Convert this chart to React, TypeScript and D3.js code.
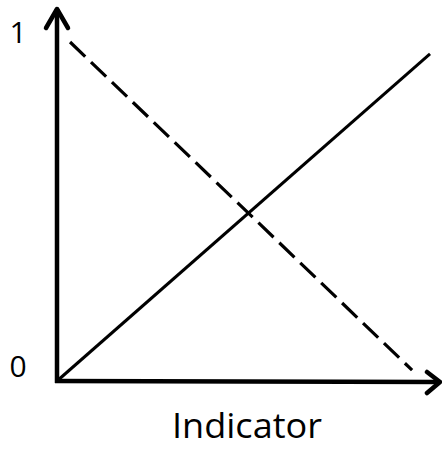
import React, { useEffect, useRef } from 'react'
import * as d3 from 'd3';

// values (0..1 on both axes)
const risingX = [0, 1];
const risingY = [0, 0.965];
const fallingX = [0.035, 0.952];
const fallingY = [1, 0.032];
const yTicks = [0, 1];
const yTickLabels = ['0', '1'];
const xTitle = 'Indicator';

export default function App() {
    const ref = useRef<SVGSVGElement | null>(null);

    useEffect(() => {
        const svg = d3.select(ref.current);
        svg.selectAll('*').remove();

        const width = 442;
        const height = 449;

        const x = d3.scaleLinear().domain([0, 1]).range([57, 430]);
        const y = d3.scaleLinear().domain([0, 1]).range([381, 42]);

        svg.append('rect')
            .attr('width', width)
            .attr('height', height)
            .attr('fill', '#ffffff');

        const line = d3.line<[number, number]>()
            .x(d => x(d[0]))
            .y(d => y(d[1]));

        // solid rising line
        svg.append('path')
            .datum(risingX.map((v, i) => [v, risingY[i]] as [number, number]))
            .attr('d', line)
            .attr('fill', 'none')
            .attr('stroke', '#000')
            .attr('stroke-width', 3);

        // dashed falling line
        svg.append('path')
            .datum(fallingX.map((v, i) => [v, fallingY[i]] as [number, number]))
            .attr('d', line)
            .attr('fill', 'none')
            .attr('stroke', '#000')
            .attr('stroke-width', 3.2)
            .attr('stroke-dasharray', '21 8');

        const axisColor = '#000';
        const axisWidth = 4.5;
        const x0 = x(0);
        const y0 = y(0);

        // y axis with arrow
        svg.append('line')
            .attr('x1', x0).attr('y1', y0 + 2)
            .attr('x2', x0).attr('y2', 9)
            .attr('stroke', axisColor).attr('stroke-width', axisWidth);
        svg.append('polyline')
            .attr('points', `${x0 - 11},${28} ${x0},${9} ${x0 + 11},${28}`)
            .attr('fill', 'none')
            .attr('stroke', axisColor).attr('stroke-width', axisWidth)
            .attr('stroke-linecap', 'round').attr('stroke-linejoin', 'round');

        // x axis with arrow
        const xEnd = 440;
        svg.append('line')
            .attr('x1', x0 - 2).attr('y1', y0)
            .attr('x2', xEnd).attr('y2', y0 + 1)
            .attr('stroke', axisColor).attr('stroke-width', axisWidth);
        svg.append('polyline')
            .attr('points', `${xEnd - 13},${y0 - 9} ${xEnd},${y0 + 1} ${xEnd - 13},${y0 + 12}`)
            .attr('fill', 'none')
            .attr('stroke', axisColor).attr('stroke-width', axisWidth)
            .attr('stroke-linecap', 'round').attr('stroke-linejoin', 'round');

        // y tick labels
        svg.append('g')
            .selectAll('text')
            .data(yTicks)
            .enter()
            .append('text')
            .attr('x', 18)
            .attr('y', d => y(d) - (d === 0 ? 4 : -1))
            .attr('text-anchor', 'middle')
            .attr('font-family', "'Open Sans', sans-serif")
            .attr('font-size', 30)
            .attr('fill', '#000')
            .text((d, i) => yTickLabels[i]);

        // x axis title
        svg.append('text')
            .attr('x', 247)
            .attr('y', 438)
            .attr('text-anchor', 'middle')
            .attr('font-family', "'Open Sans', sans-serif")
            .attr('font-size', 35)
            .attr('textLength', 150)
            .attr('lengthAdjust', 'spacingAndGlyphs')
            .attr('fill', '#000')
            .text(xTitle);
    }, []);

    return (
        <svg
            ref={ref}
            width={442}
            height={449}
            style={{ position: 'absolute', left: 0, top: 0, display: 'block' }}
        />
    )
}
